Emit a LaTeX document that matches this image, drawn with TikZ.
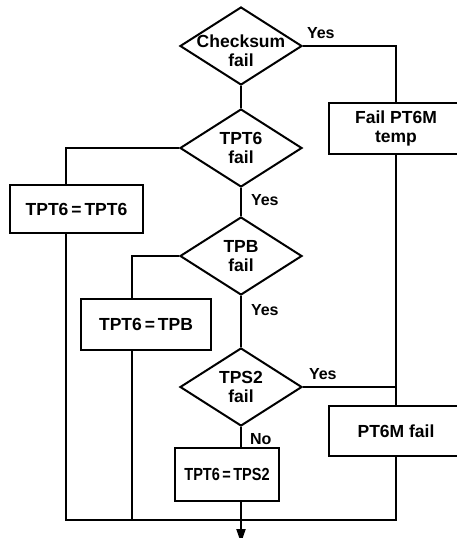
\documentclass[tikz,border=0pt]{standalone}
\usepackage{fontspec}
\setmainfont{Liberation Sans}
\usetikzlibrary{arrows.meta,positioning,shapes.geometric}

\begin{document}
\begin{tikzpicture}[x=1pt, y=-1pt, font=\fontsize{17.5}{19}\selectfont\bfseries, line width=2pt,
  dec/.style={diamond, draw, minimum width=122pt, minimum height=78pt, inner sep=0pt},
  dtext/.style={align=center, inner sep=0pt},
  box/.style={draw, align=center, minimum width=#1, minimum height=51pt, inner sep=2pt},
  box/.default={130pt},
  lbl/.style={font=\fontsize{16}{18}\selectfont\bfseries, inner sep=1pt},
  >={Triangle[length=14pt, width=9pt]}]
\useasboundingbox (0,0) rectangle (456,538);
% decision column
\node[dec, label={[dtext, yshift=-5pt]center:Checksum\\fail}] (chk) at (241,46) {};
\node[dec, label={[dtext]center:TPT6\\fail}, below=22pt of chk] (tpt6) {};
\node[dec, label={[dtext]center:TPB\\fail}, below=28pt of tpt6] (tpb) {};
\node[dec, label={[dtext]center:TPS2\\fail}, below=51pt of tpb] (tps2) {};
% actions
\node[box=133pt, minimum height=48pt, below left=36pt and 35pt of tpt6.west] (b1) {TPT6\,=\,TPT6};
\node[box=130pt, below left=2pt and 29pt of tpb.south] (b2) {TPT6\,=\,TPB};
\node[box=104pt, minimum height=53pt, below=20pt of tps2, xshift=-14pt] (b3) {\scalebox{0.83}[1]{TPT6\,=\,TPS2}};
\node[box=150pt, below right=56pt and 25pt of chk.east] (fpt) {\hspace*{-16pt}Fail PT6M\\\hspace*{-16pt}temp};
\node[box=150pt, minimum height=50pt, below right=18pt and 25pt of tps2.east] (pfail) {\hspace*{-16pt}PT6M fail};
% branch labels
\node[lbl, above right=5pt and 2pt of chk.east] (y0) {Yes};
\node[lbl, below right=4pt and 8pt of tpt6.south] (y1) {Yes};
\node[lbl, below right=6pt and 8pt of tpb.south] (y2) {Yes};
\node[lbl, above right=5pt and 4pt of tps2.east] (y3) {Yes};
\node[lbl, below right=4pt and 7pt of tps2.south] (n3) {No};
\coordinate (rtop) at ([xshift=-8pt]fpt.north);
\coordinate (rmid) at ([xshift=-8pt]fpt.south);
\coordinate (rlow) at ([xshift=-8pt]pfail.north);
\coordinate (rbot) at ([xshift=-8pt]pfail.south);
\coordinate (join) at ([yshift=-18pt]b3.south -| tps2.south);
\coordinate (end) at ([yshift=-23pt]join);
\draw (chk) -- (tpt6);
\draw (tpt6) -- (tpb);
\draw (tpb) -- (tps2);
\draw (tps2.south) -- (tps2.south |- b3.north);
\draw (chk.east) -| (rtop);
\draw (rmid) -- (rlow);
\draw (tps2.east) -- (tps2.east -| rlow);
\draw (tpt6.west) -| ([xshift=-10.5pt]b1.north);
\draw (tpb.west) -| ([xshift=-14pt]b2.north);
\draw ([xshift=-10.5pt]b1.south) |- (join) -| (rbot);
\draw ([xshift=-14pt]b2.south) -- ([xshift=-14pt]b2.south |- join);
\draw[->] (b3.south -| tps2.south) -- (end);
\end{tikzpicture}
\end{document}
